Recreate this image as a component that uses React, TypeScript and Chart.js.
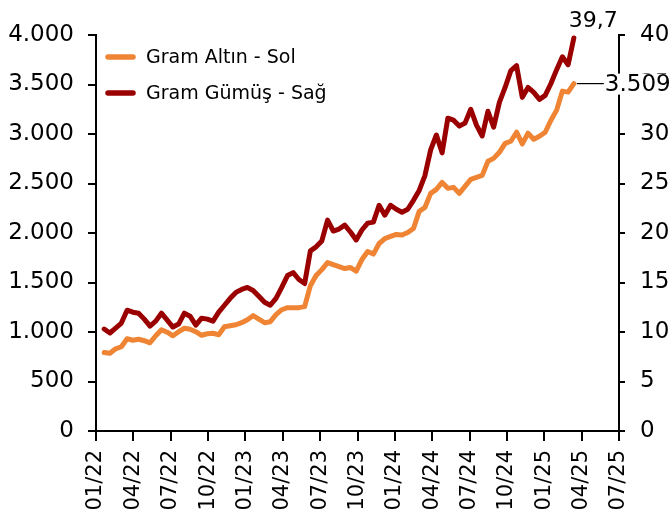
import React, { useEffect, useRef } from "react";
import { Chart, registerables } from "chart.js";

Chart.register(...registerables);

// ---- Data ----
const dates: string[] = [
  "2022-01-21", "2022-02-04", "2022-02-18", "2022-03-04", "2022-03-18", "2022-04-01", "2022-04-15", "2022-04-29",
  "2022-05-13", "2022-05-27", "2022-06-10", "2022-06-24", "2022-07-08", "2022-07-22", "2022-08-05", "2022-08-19",
  "2022-09-02", "2022-09-16", "2022-09-30", "2022-10-14", "2022-10-28", "2022-11-11", "2022-11-25", "2022-12-09",
  "2022-12-23",
  "2023-01-06", "2023-01-20", "2023-02-03", "2023-02-17", "2023-03-03", "2023-03-17", "2023-03-31", "2023-04-14",
  "2023-04-28", "2023-05-12", "2023-05-26", "2023-06-09", "2023-06-23", "2023-07-07", "2023-07-21", "2023-08-04",
  "2023-08-18", "2023-09-01", "2023-09-15", "2023-09-29", "2023-10-13", "2023-10-27", "2023-11-10", "2023-11-24",
  "2023-12-08", "2023-12-22",
  "2024-01-05", "2024-01-19", "2024-02-02", "2024-02-16", "2024-03-01", "2024-03-15", "2024-03-29", "2024-04-12",
  "2024-04-26", "2024-05-10", "2024-05-24", "2024-06-07", "2024-06-21", "2024-07-05", "2024-07-19", "2024-08-02",
  "2024-08-16", "2024-08-30", "2024-09-13", "2024-09-27", "2024-10-11", "2024-10-25", "2024-11-08", "2024-11-22",
  "2024-12-06", "2024-12-20",
  "2025-01-03", "2025-01-17", "2025-01-31", "2025-02-14", "2025-02-28", "2025-03-14",
];

const goldValues: number[] = [
  793, 785, 830, 851, 932, 917, 927, 912, 891, 962,
  1023, 998, 962, 1003, 1038, 1028, 1003, 967, 982, 987,
  972, 1053, 1063, 1073, 1094, 1124, 1165, 1129, 1094, 1104,
  1175, 1225, 1246, 1246, 1246, 1256, 1468, 1570, 1630, 1701,
  1681, 1661, 1641, 1651, 1615, 1732, 1813, 1787, 1894, 1944,
  1965, 1985, 1980, 2005, 2046, 2218, 2258, 2400, 2441, 2511,
  2451, 2461, 2400, 2471, 2542, 2562, 2582, 2724, 2754, 2815,
  2906, 2927, 3018, 2900, 3008, 2947, 2977, 3018, 3139, 3241,
  3433, 3423, 3509,
];

const silverValues: number[] = [
  10.3, 9.9, 10.4, 10.9, 12.2, 12.0, 11.9, 11.3, 10.6, 11.1,
  11.9, 11.2, 10.5, 10.8, 11.9, 11.6, 10.7, 11.4, 11.3, 11.1,
  12.0, 12.7, 13.4, 14.0, 14.3, 14.5, 14.2, 13.6, 13.0, 12.7,
  13.4, 14.5, 15.7, 16.0, 15.3, 14.9, 18.2, 18.6, 19.2, 21.3,
  20.2, 20.4, 20.8, 20.1, 19.3, 20.3, 21.0, 21.1, 22.8, 21.8,
  22.8, 22.4, 22.1, 22.4, 23.3, 24.3, 25.8, 28.4, 29.9, 28.1,
  31.6, 31.4, 30.8, 31.1, 32.5, 30.9, 29.8, 32.3, 30.7, 33.2,
  34.7, 36.4, 36.9, 33.7, 34.7, 34.2, 33.5, 33.9, 35.1, 36.5,
  37.8, 37.0, 39.7,
];

const xTickLabels: string[] = [
  "01/22", "04/22", "07/22", "10/22", "01/23", "04/23", "07/23", "10/23",
  "01/24", "04/24", "07/24", "10/24", "01/25", "04/25", "07/25",
];

const goldLabel = "Gram Altın - Sol";
const silverLabel = "Gram Gümüş - Sağ";

const GOLD_COLOR = "#EE8434";
const SILVER_COLOR = "#9B0000";
const FONT = '"DejaVu Sans", sans-serif';

// months elapsed since 2022-01-01 (x axis unit)
const BASE = Date.UTC(2022, 0, 1);
const toMonths = (d: string) => (Date.parse(d + "T00:00:00Z") - BASE) / 86400000 / 30.4375;

const fmtThousands = (v: number) => String(Math.round(v)).replace(/\B(?=(\d{3})+(?!\d))/g, ".");
const fmtDecimal = (v: number) => v.toFixed(1).replace(".", ",");

const overlayPlugin = {
  id: "overlay",
  afterDraw(chart: any) {
    const ctx = chart.ctx as CanvasRenderingContext2D;
    const area = chart.chartArea;
    ctx.save();
    // legend
    chart.data.datasets.forEach((ds: any, i: number) => {
      const y = area.top + 22 + i * 36;
      ctx.strokeStyle = ds.borderColor;
      ctx.lineWidth = 5.5;
      ctx.lineCap = "round";
      ctx.beginPath();
      ctx.moveTo(area.left + 12, y);
      ctx.lineTo(area.left + 37, y);
      ctx.stroke();
      ctx.fillStyle = "#000";
      ctx.font = "19px " + FONT;
      ctx.textAlign = "left";
      ctx.textBaseline = "middle";
      ctx.fillText(ds.label, area.left + 50, y + 1);
    });

    // end label for gold (left axis)
    const gMeta = chart.getDatasetMeta(0);
    const gPt = gMeta.data[gMeta.data.length - 1];
    const gVal = goldValues[goldValues.length - 1];
    ctx.strokeStyle = "#000";
    ctx.lineWidth = 1.2;
    ctx.lineCap = "butt";
    ctx.beginPath();
    ctx.moveTo(gPt.x + 3, gPt.y);
    ctx.lineTo(gPt.x + 30, gPt.y);
    ctx.stroke();
    ctx.fillStyle = "#fff";
    ctx.fillRect(gPt.x + 31, gPt.y - 10, 80, 21);
    ctx.fillStyle = "#000";
    ctx.font = "23px " + FONT;
    ctx.textAlign = "left";
    ctx.textBaseline = "middle";
    ctx.fillText(fmtThousands(gVal), gPt.x + 31, gPt.y + 1);

    // end label for silver (right axis)
    const sMeta = chart.getDatasetMeta(1);
    const sPt = sMeta.data[sMeta.data.length - 1];
    const sVal = silverValues[silverValues.length - 1];
    ctx.font = "22px " + FONT;
    ctx.textAlign = "left";
    ctx.textBaseline = "alphabetic";
    ctx.fillText(fmtDecimal(sVal), sPt.x - 5, sPt.y - 11);
    ctx.restore();
  },
};

export default function App() {
  const canvasRef = useRef<HTMLCanvasElement | null>(null);

  useEffect(() => {
    const canvas = canvasRef.current;
    if (!canvas) return;
    const xs = dates.map(toMonths);
    const chart = new Chart(canvas, {
      type: "line",
      data: {
        datasets: [
          {
            label: goldLabel,
            data: xs.map((x, i) => ({ x, y: goldValues[i] })),
            borderColor: GOLD_COLOR,
            backgroundColor: GOLD_COLOR,
            borderWidth: 5,
            pointRadius: 0,
            tension: 0,
            borderJoinStyle: "round",
            borderCapStyle: "round",
            yAxisID: "y",
          },
          {
            label: silverLabel,
            data: xs.map((x, i) => ({ x, y: silverValues[i] })),
            borderColor: SILVER_COLOR,
            backgroundColor: SILVER_COLOR,
            borderWidth: 5,
            pointRadius: 0,
            tension: 0,
            borderJoinStyle: "round",
            borderCapStyle: "round",
            yAxisID: "y1",
          },
        ],
      },
      options: {
        responsive: false,
        animation: false,
        devicePixelRatio: 1,
        layout: { padding: { top: 35, left: 0, right: 0, bottom: 0 } },
        plugins: {
          legend: { display: false },
          tooltip: { enabled: false },
        },
        scales: {
          x: {
            type: "linear",
            position: "bottom",
            min: 0,
            max: 42,
            ticks: {
              stepSize: 3,
              autoSkip: false,
              maxRotation: 90,
              minRotation: 90,
              padding: 9,
              color: "#000",
              font: { family: FONT, size: 21 },
              callback: (v: any) => xTickLabels[Math.round(Number(v) / 3)] ?? "",
            },
            grid: { drawOnChartArea: false, drawTicks: true, tickLength: 10, color: "#000", lineWidth: 2 },
            border: { display: true, color: "#000", width: 2 },
            afterFit: (s: any) => {
              s.height = 96;
            },
          },
          y: {
            type: "linear",
            position: "left",
            min: 0,
            max: 4000,
            ticks: {
              stepSize: 500,
              padding: 14,
              color: "#000",
              font: { family: FONT, size: 23 },
              callback: (v: any) => fmtThousands(Number(v)),
            },
            grid: { drawOnChartArea: false, drawTicks: true, tickLength: 8, color: "#000", lineWidth: 2 },
            border: { display: true, color: "#000", width: 2 },
            afterFit: (s: any) => {
              s.width = 96;
            },
          },
          y1: {
            type: "linear",
            position: "right",
            min: 0,
            max: 40,
            ticks: {
              stepSize: 5,
              padding: 15,
              color: "#000",
              font: { family: FONT, size: 23 },
            },
            grid: { drawOnChartArea: false, drawTicks: true, tickLength: 6, color: "#000", lineWidth: 2 },
            border: { display: true, color: "#000", width: 2 },
            afterFit: (s: any) => {
              s.width = 52;
            },
          },
        },
      },
      plugins: [overlayPlugin],
    });
    return () => chart.destroy();
  }, []);

  return (
    <div style={{ position: "absolute", left: 0, top: 0, width: 671, height: 527, background: "#fff" }}>
      <canvas ref={canvasRef} width={671} height={527} style={{ display: "block", width: 671, height: 527 }} />
    </div>
  );
}
